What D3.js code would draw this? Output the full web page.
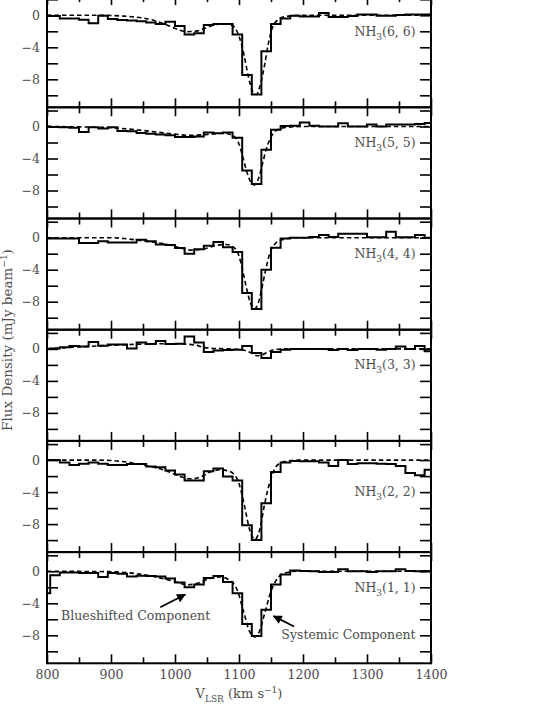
<!DOCTYPE html>
<html>
<head>
<meta charset="utf-8">
<script src="https://cdn.jsdelivr.net/npm/d3@7"></script>
<style>
  html, body { margin: 0; padding: 0; background: #fff; }
  svg { display: block; }
  text { font-family: "DejaVu Serif", "Liberation Serif", serif; fill: #4d4d4d; }
</style>
</head>
<body>
<svg id="chart" width="545" height="705"></svg>
<script>
// ---------------- DATA ----------------
const channelVel = [797.5, 812.5, 827.5, 842.5, 857.5, 872.5, 887.5, 902.5, 917.5, 932.5,
  947.5, 962.5, 977.5, 992.5, 1007.5, 1022.5, 1037.5, 1052.5, 1067.5, 1082.5,
  1097.5, 1112.5, 1127.5, 1142.5, 1157.5, 1172.5, 1187.5, 1202.5, 1217.5, 1232.5,
  1247.5, 1262.5, 1277.5, 1292.5, 1307.5, 1322.5, 1337.5, 1352.5, 1367.5, 1382.5, 1397.5];
const channelWidth = 15;

const panelLabels = ["6, 6", "5, 5", "4, 4", "3, 3", "2, 2", "1, 1"];

const flux66 = [-0.05, -0.1, -0.4, -0.4, -0.55, -1.0, -0.05, -0.45, -0.6, -0.65,
  -0.75, -0.9, -1.1, -0.8, -1.35, -2.4, -2.25, -1.2, -1.1, -1.1,
  -2.4, -7.45, -9.9, -4.5, -1.1, -0.4, -0.05, -0.15, -0.15, 0.3,
  -0.2, -0.2, -0.1, 0.1, 0.1, -0.05, -0.05, 0.05, 0.1, 0.1, 0.1];
const flux55 = [0, -0.05, -0.1, -0.15, -0.7, -0.1, -0.25, -0.1, -0.55, -0.6,
  -0.8, -0.9, -1.0, -1.1, -1.3, -1.3, -1.25, -0.75, -0.85, -0.75,
  -1.4, -5.5, -7.2, -2.9, -0.4, 0.05, 0.1, 0.5, 0.1, 0,
  0, 0.4, 0, 0, 0.25, 0, 0.25, 0.25, 0.25, 0.3, 0.45];
const flux44 = [-0.1, -0.1, -0.1, -0.1, -0.65, -0.65, -0.45, -0.6, -0.6, -0.6,
  -0.25, -0.45, -0.85, -0.9, -1.3, -2.0, -1.45, -1.0, -0.55, -1.2,
  -1.8, -6.9, -8.9, -4.0, -1.25, -0.1, 0, 0, 0.1, 0.35,
  0.1, 0.5, 0.5, 0.5, 0.05, 0.05, 0.75, 0.05, 0.05, 0.35, 0];
const flux33 = [0, 0.05, 0.2, 0.35, 0.3, 0.85, 0.4, 0.55, 0.55, 0.05,
  0.8, 0.6, 1.0, 0.6, 0.65, 1.55, 0.8, -0.4, -0.2, -0.15,
  -0.1, 0.35, -0.5, -1.15, -0.4, -0.1, 0, 0, 0, 0,
  -0.15, 0, -0.15, 0, 0, -0.1, 0, 0.3, 0, 0.35, -0.3];
const flux22 = [0, 0, -0.3, -0.6, -0.45, -0.3, -0.45, -0.6, -0.6, -0.5,
  -0.5, -0.8, -0.9, -1.3, -1.8, -2.55, -2.55, -1.4, -1.05, -2.05,
  -2.55, -8.15, -10.0, -5.4, -1.5, -0.3, -0.1, -0.15, -0.15, -0.3,
  -0.75, 0, -0.5, -0.4, -0.4, -0.45, -0.5, -0.75, -1.6, -1.9, -1.2];
const flux11 = [-2.75, -0.5, -0.15, -0.15, -0.2, -0.2, -0.7, -0.2, -0.3, -0.65,
  -0.55, -0.6, -0.65, -0.9, -1.4, -2.0, -1.65, -0.85, -0.6, -1.35,
  -2.75, -6.6, -8.1, -4.8, -1.65, -0.4, 0.1, 0.05, 0, -0.1,
  -0.1, 0.25, 0, 0, -0.1, 0, 0, 0.25, 0.05, 0, 0.05];

// Gaussian-fit curves (dashed)
const fit66Vel = [800, 880, 920, 950, 970, 990, 1005, 1020, 1035, 1050, 1065, 1080, 1090, 1100, 1108, 1115, 1122, 1127, 1133, 1140, 1146, 1152, 1160, 1170, 1185, 1200, 1400];
const fit66 = [0, 0, -0.1, -0.35, -0.7, -1.3, -1.8, -2.05, -1.95, -1.5, -1.15, -1.05, -1.3, -2.6, -5.0, -7.8, -9.6, -9.9, -8.8, -6.2, -3.5, -1.6, -0.6, -0.2, -0.05, 0, 0];
const fit55Vel = [800, 850, 900, 950, 1000, 1020, 1050, 1075, 1090, 1100, 1106, 1112, 1118, 1124, 1130, 1136, 1142, 1150, 1160, 1175, 1200, 1400];
const fit55 = [0, -0.05, -0.15, -0.5, -0.95, -1.1, -1.0, -0.85, -1.1, -2.2, -3.8, -5.6, -6.9, -7.3, -6.6, -4.9, -3.0, -1.3, -0.4, -0.1, 0, 0];
const fit44Vel = [800, 900, 920, 950, 985, 1010, 1025, 1045, 1065, 1080, 1092, 1100, 1106, 1112, 1118, 1124, 1130, 1136, 1142, 1148, 1157, 1170, 1190, 1400];
const fit44 = [0, 0, -0.1, -0.4, -0.8, -1.3, -1.55, -1.4, -0.95, -0.85, -1.2, -2.3, -4.2, -6.4, -8.2, -8.9, -8.2, -6.2, -3.9, -2.0, -0.7, -0.2, 0, 0];
const fit33Vel = [800, 850, 900, 950, 1000, 1030, 1045, 1060, 1090, 1110, 1120, 1128, 1136, 1145, 1155, 1170, 1400];
const fit33 = [0, 0.25, 0.45, 0.6, 0.65, 0.5, 0.2, 0.05, 0, -0.2, -0.55, -0.85, -0.75, -0.4, -0.1, 0, 0];
const fit22Vel = [800, 880, 920, 950, 985, 1010, 1025, 1040, 1055, 1070, 1085, 1098, 1108, 1117, 1125, 1133, 1140, 1150, 1158, 1170, 1190, 1400];
const fit22 = [0, 0, -0.2, -0.6, -1.3, -2.1, -2.35, -2.1, -1.5, -1.2, -1.4, -2.5, -5.5, -8.8, -9.9, -8.5, -5.5, -2.3, -0.8, -0.2, 0, 0];
const fit11Vel = [800, 900, 940, 970, 1000, 1020, 1035, 1055, 1070, 1085, 1097, 1107, 1117, 1125, 1133, 1140, 1150, 1160, 1172, 1190, 1400];
const fit11 = [0, -0.05, -0.3, -0.7, -1.3, -1.7, -1.5, -0.9, -0.7, -1.1, -2.3, -5.0, -7.6, -8.2, -7.3, -5.3, -2.5, -0.9, -0.2, 0, 0];

const xTicks = [800, 850, 900, 950, 1000, 1050, 1100, 1150, 1200, 1250, 1300, 1350, 1400];
const xTickLabels = [800, 900, 1000, 1100, 1200, 1300, 1400];
const yTicks = [-10, -8, -6, -4, -2, 0, 2];
const yTickLabels = [0, -4, -8];

// ---------------- LAYOUT ----------------
const L = {
  left: 47, right: 431, top0: -3.9, panelH: 111.2,
  yDomain: [-11.5, 2.4],
  labelLevel: [-2, -2, -2, -2, -4, -2],
  fs: 12.5
};

const panels = [
  { flux: flux66, fitV: fit66Vel, fit: fit66 },
  { flux: flux55, fitV: fit55Vel, fit: fit55 },
  { flux: flux44, fitV: fit44Vel, fit: fit44 },
  { flux: flux33, fitV: fit33Vel, fit: fit33 },
  { flux: flux22, fitV: fit22Vel, fit: fit22 },
  { flux: flux11, fitV: fit11Vel, fit: fit11 }
];

const svg = d3.select("#chart");
const x = d3.scaleLinear().domain([800, 1400]).range([L.left, L.right]);
const fmt = v => (v < 0 ? "\u2212" + Math.abs(v) : String(v));

const defs = svg.append("defs");
defs.append("marker")
  .attr("id", "arrow").attr("viewBox", "0 0 10 10")
  .attr("refX", 9).attr("refY", 5)
  .attr("markerWidth", 10).attr("markerHeight", 9)
  .attr("markerUnits", "userSpaceOnUse")
  .attr("orient", "auto")
  .append("path").attr("d", "M0,0 L10,5 L0,10 z").attr("fill", "#000");

panels.forEach((p, i) => {
  const top = L.top0 + i * L.panelH;
  const bottom = top + L.panelH;
  const y = d3.scaleLinear().domain(L.yDomain).range([bottom, top]);
  const g = svg.append("g");

  const clipId = "clip" + i;
  defs.append("clipPath").attr("id", clipId)
    .append("rect").attr("x", L.left).attr("y", top)
    .attr("width", L.right - L.left).attr("height", L.panelH);

  // step histogram
  const steps = [];
  channelVel.forEach((v, k) => {
    steps.push([v - channelWidth / 2, p.flux[k]]);
    steps.push([v + channelWidth / 2, p.flux[k]]);
  });
  g.append("path")
    .datum(steps)
    .attr("clip-path", `url(#${clipId})`)
    .attr("fill", "none").attr("stroke", "#000").attr("stroke-width", 2)
    .attr("stroke-linejoin", "miter")
    .attr("d", d3.line().x(d => x(d[0])).y(d => y(d[1])));

  // fit
  const fitPts = p.fitV.map((v, k) => [v, p.fit[k]]);
  g.append("path")
    .datum(fitPts)
    .attr("clip-path", `url(#${clipId})`)
    .attr("fill", "none").attr("stroke", "#000").attr("stroke-width", 1.6)
    .attr("stroke-dasharray", "4.5,3")
    .attr("d", d3.line().curve(d3.curveMonotoneX).x(d => x(d[0])).y(d => y(d[1])));

  // axes
  const isBottom = i === panels.length - 1;
  const tickLen = v => (v % 100 === 0 ? 9 : 6);
  const ax = (axis, tx, ty) => {
    const a = g.append("g").attr("transform", `translate(${tx},${ty})`).call(axis);
    a.select(".domain").remove();
    a.selectAll("line").attr("stroke", "#000").attr("stroke-width", 1.6);
    a.selectAll("text").attr("font-size", L.fs).attr("fill", "#4d4d4d")
      .attr("font-family", '"DejaVu Serif", serif');
    return a;
  };
  const bAxis = d3.axisBottom(x).tickValues(xTicks).tickSize(-9).tickPadding(7)
    .tickFormat(v => (isBottom && xTickLabels.includes(v)) ? String(v) : "");
  const b = ax(bAxis, 0, bottom);
  b.selectAll(".tick line").attr("y2", d => -tickLen(d));
  const tAxis = d3.axisTop(x).tickValues(xTicks).tickSize(-9).tickFormat("");
  const t = ax(tAxis, 0, top);
  t.selectAll(".tick line").attr("y2", d => tickLen(d));

  const lAxis = d3.axisLeft(y).tickValues(yTicks).tickSize(-11).tickPadding(7)
    .tickFormat(v => yTickLabels.includes(v) ? fmt(v) : "");
  ax(lAxis, L.left, 0);
  const rAxis = d3.axisRight(y).tickValues(yTicks).tickSize(-11).tickFormat("");
  ax(rAxis, L.right, 0);

  // frame
  g.append("rect").attr("x", L.left).attr("y", top)
    .attr("width", L.right - L.left).attr("height", L.panelH)
    .attr("fill", "none").attr("stroke", "#000").attr("stroke-width", 2);

  // label
  const lab = g.append("text")
    .attr("x", x(1376)).attr("y", y(L.labelLevel[i]))
    .attr("dy", "0.35em").attr("text-anchor", "end").attr("font-size", L.fs);
  lab.append("tspan").text("NH");
  lab.append("tspan").attr("font-size", 9).attr("dy", 4).text("3");
  lab.append("tspan").attr("dy", -4).text("(" + panelLabels[i] + ")");

  if (isBottom) {
    g.append("text").attr("x", x(822)).attr("y", y(-6.1))
      .attr("font-size", L.fs).text("Blueshifted Component");
    g.append("line")
      .attr("x1", x(977)).attr("y1", y(-4.5)).attr("x2", x(1016)).attr("y2", y(-2.9))
      .attr("stroke", "#000").attr("stroke-width", 1.8).attr("marker-end", "url(#arrow)");
    g.append("text").attr("x", x(1376)).attr("y", y(-8.5))
      .attr("text-anchor", "end").attr("font-size", L.fs).text("Systemic Component");
    g.append("line")
      .attr("x1", x(1186)).attr("y1", y(-6.9)).attr("x2", x(1154)).attr("y2", y(-5.6))
      .attr("stroke", "#000").attr("stroke-width", 1.8).attr("marker-end", "url(#arrow)");
  }
});

// axis titles
const yt = svg.append("text")
  .attr("transform", "translate(12,340) rotate(-90)")
  .attr("text-anchor", "middle").attr("font-size", 13.5);
yt.append("tspan").text("Flux Density (mJy beam");
yt.append("tspan").attr("font-size", 9).attr("dy", -5).text("\u22121");
yt.append("tspan").attr("dy", 5).text(")");

const xt = svg.append("text")
  .attr("x", 239).attr("y", 698).attr("text-anchor", "middle").attr("font-size", 13);
xt.append("tspan").text("V");
xt.append("tspan").attr("font-size", 9).attr("dy", 4).text("LSR");
xt.append("tspan").attr("dy", -4).text(" (km s");
xt.append("tspan").attr("font-size", 9).attr("dy", -5).text("\u22121");
xt.append("tspan").attr("dy", 5).text(")");
</script>
</body>
</html>
